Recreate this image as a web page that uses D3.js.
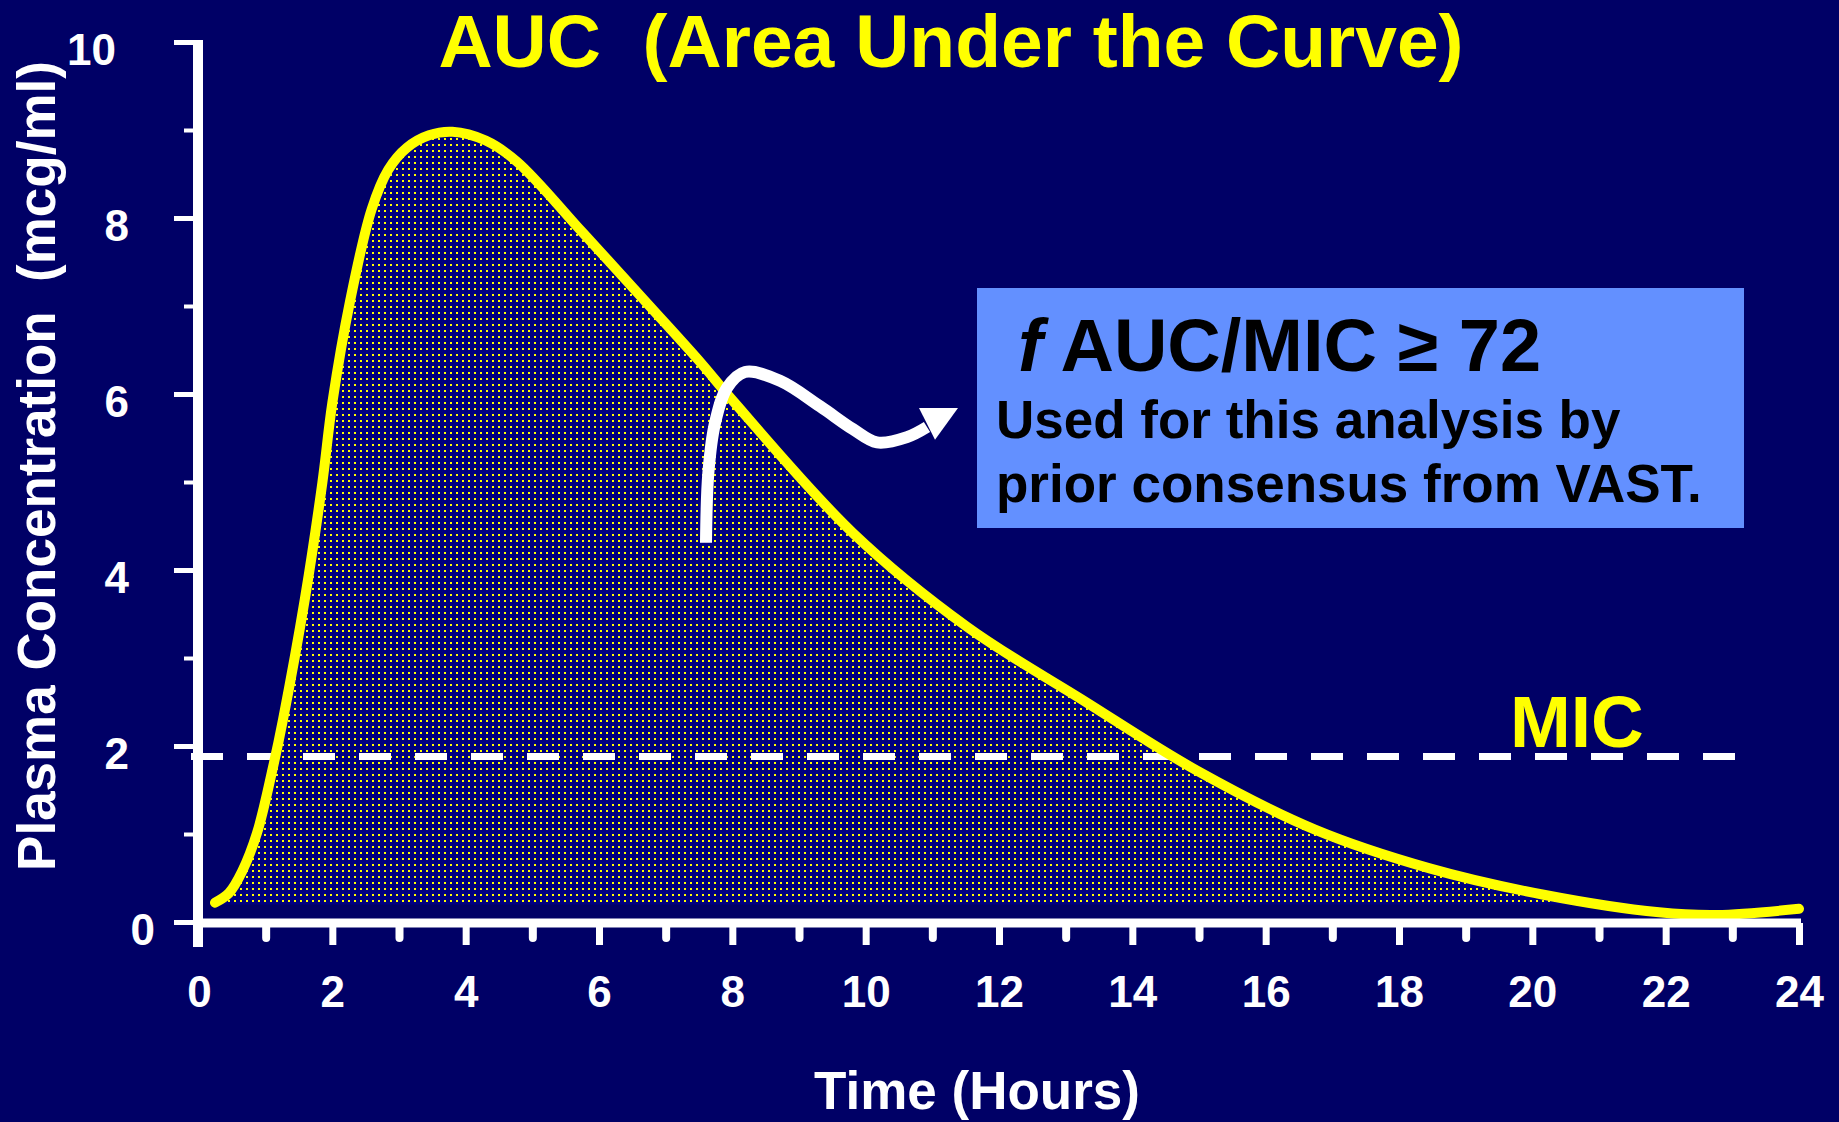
<!DOCTYPE html>
<html>
<head>
<meta charset="utf-8">
<script src="https://cdn.jsdelivr.net/npm/d3@7"></script>
<style>
  html, body { margin: 0; padding: 0; background: #000066; }
  svg { display: block; }
  text { font-family: "Liberation Sans", Arial, sans-serif; font-weight: bold; }
</style>
</head>
<body>
<svg id="chart" width="1839" height="1122"></svg>
<script>
// ---- data ----
const timeHours = [0.24, 0.45, 0.65, 0.87, 1.11, 1.26, 1.59, 1.85, 2.0, 2.27, 2.59, 2.84, 3.12, 3.45, 3.8, 4.3, 4.77, 5.76, 6.77, 7.52, 8.0, 9.81, 11.53, 13.26, 14.97, 16.74, 18.46, 20.17, 21.9, 22.77, 24.0];
const concentration = [0.22, 0.33, 0.58, 1.01, 1.76, 2.30, 3.68, 4.99, 5.9, 7.07, 8.10, 8.55, 8.80, 8.94, 8.98, 8.88, 8.64, 7.83, 6.99, 6.36, 5.93, 4.42, 3.35, 2.52, 1.72, 1.05, 0.61, 0.31, 0.11, 0.08, 0.15];
const micValue = 1.88;
const fillBase = 0.2;
const xTickMajor = [0, 2, 4, 6, 8, 10, 12, 14, 16, 18, 20, 22, 24];
const xTickMinor = [1, 3, 5, 7, 9, 11, 13, 15, 17, 19, 21, 23];
const yTickMajor = [0, 2, 4, 6, 8, 10];
const yTickMinor = [1, 3, 5, 7, 9];
const titleText = "AUC  (Area Under the Curve)";
const xTitle = "Time (Hours)";
const yTitle = "Plasma Concentration  (mcg/ml)";
const micLabel = "MIC";
const boxLine1Italic = "f";
const boxLine1 = " AUC/MIC \u2265 72";
const boxLine2 = "Used for this analysis by";
const boxLine3 = "prior consensus from VAST.";
// arrow annotation path (data coordinates: hours, mcg/ml)
const arrowT = [7.605, 7.64, 7.74, 7.92, 8.19, 8.715, 9.315, 9.81, 10.17, 10.62, 10.92];
const arrowC = [4.31, 5.10, 5.67, 6.07, 6.25, 6.15, 5.86, 5.60, 5.45, 5.51, 5.625];
const arrowHeadT = [10.8, 11.385, 11.04];
const arrowHeadC = [5.84, 5.84, 5.48];

// ---- layout ----
const W = 1839, H = 1122;
const svg = d3.select("#chart");
const x = d3.scaleLinear().domain([0, 24]).range([199, 1799]);
const y = d3.scaleLinear().domain([0, 10]).range([922, 42]);
const navy = "#000066", yellow = "#FFFF00", white = "#FFFFFF", boxBlue = "#6390FF";
const micLineEnd = 23.1;

svg.append("rect").attr("width", W).attr("height", H).attr("fill", navy);

// pattern
const defs = svg.append("defs");
const pat = defs.append("pattern").attr("id", "dots").attr("patternUnits", "userSpaceOnUse")
  .attr("width", 6).attr("height", 6);
pat.append("rect").attr("width", 6).attr("height", 6).attr("fill", "#000080");
pat.append("rect").attr("x", 0).attr("y", 0).attr("width", 2).attr("height", 2).attr("fill", yellow);

const pts = timeHours.map((t, i) => ({ t, c: concentration[i] }));
const curve = d3.curveCatmullRom.alpha(0.5);

// area fill
const area = d3.area()
  .x(d => x(d.t))
  .y0(y(fillBase))
  .y1(d => y(Math.max(d.c, fillBase)))
  .curve(curve);
svg.append("path").datum(pts).attr("d", area).attr("fill", "url(#dots)");

// MIC dashed line
svg.append("line")
  .attr("x1", x(0) - 8).attr("x2", x(micLineEnd))
  .attr("y1", y(micValue)).attr("y2", y(micValue))
  .attr("stroke", white).attr("stroke-width", 7).attr("stroke-dasharray", "32,24");

// curve
const line = d3.line().x(d => x(d.t)).y(d => y(d.c)).curve(curve);
svg.append("path").datum(pts).attr("d", line)
  .attr("fill", "none").attr("stroke", yellow).attr("stroke-width", 10)
  .attr("stroke-linecap", "round").attr("stroke-linejoin", "round");

// axes
const fontCss = "'Liberation Sans', Arial, sans-serif";
const gx = svg.append("g").attr("transform", `translate(0,${y(0) + 1})`);
gx.call(d3.axisBottom(x).tickValues(xTickMinor).tickSize(15).tickFormat(""))
  .call(g => g.select(".domain").remove())
  .call(g => g.selectAll(".tick line").attr("stroke", white).attr("stroke-width", 8).attr("stroke-linecap", "round"));
const gx2 = svg.append("g").attr("transform", `translate(0,${y(0) + 1})`);
gx2.call(d3.axisBottom(x).tickValues(xTickMajor).tickSize(22).tickFormat(d3.format("d")))
  .call(g => g.select(".domain").remove())
  .call(g => g.selectAll(".tick line").attr("stroke", white).attr("stroke-width", 7))
  .call(g => g.selectAll(".tick text").attr("fill", white).attr("dy", null).attr("y", 84)
     .style("font-size", "44px").style("font-family", fontCss).style("font-weight", "bold"));
svg.append("line").attr("x1", x(0) - 6).attr("x2", x(24) + 2).attr("y1", y(0) + 1).attr("y2", y(0) + 1)
  .attr("stroke", white).attr("stroke-width", 9);

const gy = svg.append("g").attr("transform", `translate(${x(0) - 1},0)`);
gy.call(d3.axisLeft(y).tickValues(yTickMinor).tickSize(14).tickFormat(""))
  .call(g => g.select(".domain").remove())
  .call(g => g.selectAll(".tick line").attr("stroke", white).attr("stroke-width", 4));
const gy2 = svg.append("g").attr("transform", `translate(${x(0) - 1},0)`);
gy2.call(d3.axisLeft(y).tickValues(yTickMajor).tickSize(24).tickFormat(d3.format("d")))
  .call(g => g.select(".domain").remove())
  .call(g => g.selectAll(".tick line").attr("stroke", white).attr("stroke-width", 5))
  .call(g => g.selectAll(".tick text").attr("fill", white).attr("dy", null).attr("y", 22)
     .attr("x", d => d === 0 ? -43 : (d === 10 ? -82 : -69))
     .style("font-size", "44px").style("font-family", fontCss).style("font-weight", "bold"));
svg.append("line").attr("x1", x(0) - 1).attr("x2", x(0) - 1).attr("y1", y(10) - 2).attr("y2", y(0) + 25)
  .attr("stroke", white).attr("stroke-width", 10);

// arrow annotation
const arrowPts = arrowT.map((t, i) => [x(t), y(arrowC[i])]);
svg.append("path").attr("d", d3.line().curve(d3.curveCatmullRom)(arrowPts))
  .attr("fill", "none").attr("stroke", white).attr("stroke-width", 12);
svg.append("polygon")
  .attr("points", arrowHeadT.map((t, i) => [x(t), y(arrowHeadC[i])].join(",")).join(" "))
  .attr("fill", white);

// info box
svg.append("rect").attr("x", 977).attr("y", 288).attr("width", 767).attr("height", 240).attr("fill", boxBlue);
const t1 = svg.append("text").attr("x", 1018).attr("y", 371).attr("fill", "#000").style("font-size", "74px")
  .style("white-space", "pre");
t1.append("tspan").style("font-style", "italic").text(boxLine1Italic);
t1.append("tspan").text(boxLine1);
svg.append("text").attr("x", 996).attr("y", 438).attr("fill", "#000").style("font-size", "53px").text(boxLine2);
svg.append("text").attr("x", 996).attr("y", 502).attr("fill", "#000").style("font-size", "53px").text(boxLine3);

// MIC label
svg.append("text").attr("x", 1510).attr("y", 747).attr("fill", yellow).style("font-size", "73px").text(micLabel);

// title
svg.append("text").attr("x", 951).attr("y", 67).attr("text-anchor", "middle").attr("fill", yellow)
  .style("font-size", "75px").style("white-space", "pre").text(titleText);

// axis titles
svg.append("text").attr("x", 977).attr("y", 1109).attr("text-anchor", "middle").attr("fill", white)
  .style("font-size", "53px").text(xTitle);
svg.append("text").attr("transform", "translate(55,466) rotate(-90)").attr("text-anchor", "middle").attr("fill", white)
  .style("font-size", "53px").style("white-space", "pre").text(yTitle);
</script>
</body>
</html>
